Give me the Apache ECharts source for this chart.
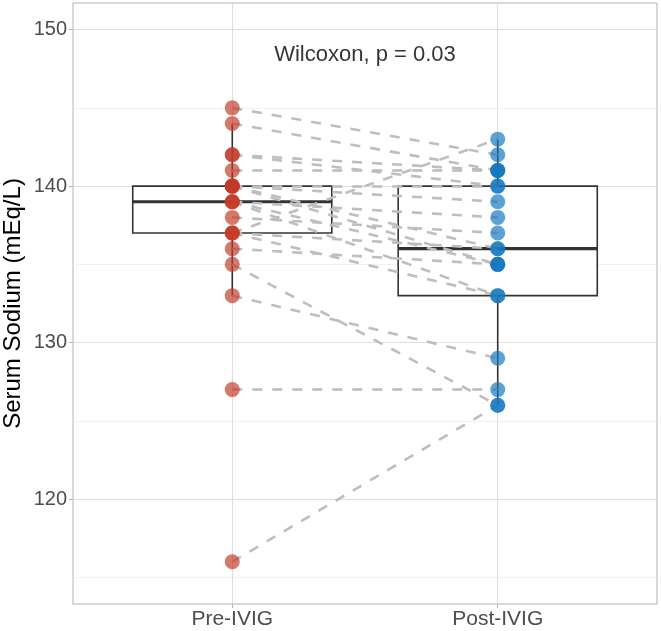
<!DOCTYPE html>
<html>
<head>
<meta charset="utf-8">
<script src="https://cdn.jsdelivr.net/npm/echarts@6/dist/echarts.min.js"></script>
<style>
html,body{margin:0;padding:0;background:#fff;}
#chart{width:661px;height:631px;}
</style>
</head>
<body>
<div id="chart"></div>
<script>
// ---- data ----
const categories = ['Pre-IVIG', 'Post-IVIG'];
// paired values: preValues[i] -> postValues[i]
const preValues  = [145, 144, 142, 142, 141, 140, 140, 140, 140, 139, 139, 139, 138, 137, 137, 137, 136, 135, 133, 127, 116];
const postValues = [142, 141, 141, 140, 141, 140, 139, 136, 135, 138, 135, 133, 137, 143, 133, 136, 135, 126, 129, 127, 126];
const yTicks = [120, 130, 140, 150];
const yMinorGrid = [115, 125, 135, 145];
const yTitle = 'Serum Sodium (mEq/L)';
const annotation = 'Wilcoxon, p = 0.03';
const annotationPos = [1.5, 148.4];

// ---- helpers ----
function quantile(sorted, p) {
  const h = (sorted.length - 1) * p;
  const lo = Math.floor(h), hi = Math.ceil(h);
  return sorted[lo] + (h - lo) * (sorted[hi] - sorted[lo]);
}
function boxStats(vals, x) {
  const s = vals.slice().sort((a, b) => a - b);
  const q1 = quantile(s, 0.25), med = quantile(s, 0.5), q3 = quantile(s, 0.75);
  const iqr = q3 - q1;
  const lw = Math.min(...s.filter(v => v >= q1 - 1.5 * iqr));
  const hw = Math.max(...s.filter(v => v <= q3 + 1.5 * iqr));
  return [x, lw, q1, med, q3, hw];
}
const boxData = [boxStats(preValues, 1), boxStats(postValues, 2)];
const pairLines = preValues.map((v, i) => ({ coords: [[1, v], [2, postValues[i]]] }));

const gridLines = [];
yTicks.forEach(v => gridLines.push({ yAxis: v, lineStyle: { color: '#DEDEDE', width: 1.1, type: 'solid' } }));
yMinorGrid.forEach(v => gridLines.push({ yAxis: v, lineStyle: { color: '#EDEDED', width: 0.8, type: 'solid' } }));
[1, 2].forEach(v => gridLines.push({ xAxis: v, lineStyle: { color: '#DEDEDE', width: 1.1, type: 'solid' } }));

const chart = echarts.init(document.getElementById('chart'), null, { renderer: 'canvas' });
const font = 'Liberation Sans, Arial, sans-serif';
chart.setOption({
  animation: false,
  backgroundColor: '#ffffff',
  grid: { left: 73, right: 4, top: 3, bottom: 27, show: true, borderColor: '#B3B3B3', borderWidth: 1, backgroundColor: '#ffffff', containLabel: false, outerBoundsMode: 'none' },
  xAxis: {
    type: 'value', min: 0.4, max: 2.6,
    axisLine: { show: false },
    splitLine: { show: false },
    axisTick: { show: true, customValues: [1, 2], length: 4, lineStyle: { color: '#B3B3B3' } },
    axisLabel: { customValues: [1, 2], formatter: v => categories[Math.round(v) - 1], fontSize: 21, color: '#4D4D4D', fontFamily: font, margin: 5 }
  },
  yAxis: {
    type: 'value', min: 113.3, max: 151.7,
    name: yTitle, nameLocation: 'middle', nameGap: 48, nameMoveOverlap: false,
    nameTextStyle: { fontSize: 24, color: '#000', fontFamily: font },
    axisLine: { show: false },
    splitLine: { show: false },
    axisTick: { show: true, customValues: yTicks, length: 4, lineStyle: { color: '#B3B3B3' } },
    axisLabel: { customValues: yTicks, fontSize: 20, color: '#4D4D4D', fontFamily: font, margin: 6 }
  },
  series: [
    {
      type: 'scatter', data: [], z: 0, silent: true,
      markLine: { silent: true, z: 0, zlevel: 0, symbol: ['none', 'none'], label: { show: false }, animation: false, data: gridLines }
    },
    {
      type: 'custom', z: 5, silent: true,
      data: boxData,
      encode: { x: 0, y: [1, 2, 3, 4, 5] },
      renderItem: function (params, api) {
        const x = api.value(0), lw = api.value(1), q1 = api.value(2), med = api.value(3), q3 = api.value(4), hw = api.value(5);
        const half = 0.375;
        const tl = api.coord([x - half, q3]);
        const br = api.coord([x + half, q1]);
        const ml = api.coord([x - half, med]);
        const mr = api.coord([x + half, med]);
        const c = api.coord([x, q3]), cHi = api.coord([x, hw]);
        const c1 = api.coord([x, q1]), cLo = api.coord([x, lw]);
        return {
          type: 'group',
          children: [
            { type: 'line', z2: 1, shape: { x1: c[0], y1: c[1], x2: cHi[0], y2: cHi[1] }, style: { stroke: '#333333', lineWidth: 1.6 } },
            { type: 'line', z2: 1, shape: { x1: c1[0], y1: c1[1], x2: cLo[0], y2: cLo[1] }, style: { stroke: '#333333', lineWidth: 1.6 } },
            { type: 'rect', z2: 2, shape: { x: tl[0], y: tl[1], width: br[0] - tl[0], height: br[1] - tl[1] }, style: { stroke: '#333333', lineWidth: 1.6, fill: '#ffffff' } },
            { type: 'line', z2: 3, shape: { x1: ml[0], y1: ml[1], x2: mr[0], y2: mr[1] }, style: { stroke: '#333333', lineWidth: 3.2 } }
          ]
        };
      }
    },
    {
      type: 'lines', coordinateSystem: 'cartesian2d', z: 6, silent: true,
      polyline: false,
      data: pairLines,
      lineStyle: { color: '#BEBEBE', width: 2.6, type: [10, 10], opacity: 1 }
    },
    {
      type: 'scatter', name: categories[0], z: 7, symbolSize: 15,
      data: preValues.map(v => [1, v]),
      itemStyle: { color: '#C23A26', opacity: 0.68 }
    },
    {
      type: 'scatter', name: categories[1], z: 7, symbolSize: 15,
      data: postValues.map(v => [2, v]),
      itemStyle: { color: '#1276C0', opacity: 0.68 }
    },
    {
      type: 'scatter', z: 8, symbolSize: 0, silent: true,
      data: [annotationPos],
      label: { show: true, position: 'inside', formatter: annotation, fontSize: 22, color: '#000', fontFamily: font }
    }
  ]
});
</script>
</body>
</html>
